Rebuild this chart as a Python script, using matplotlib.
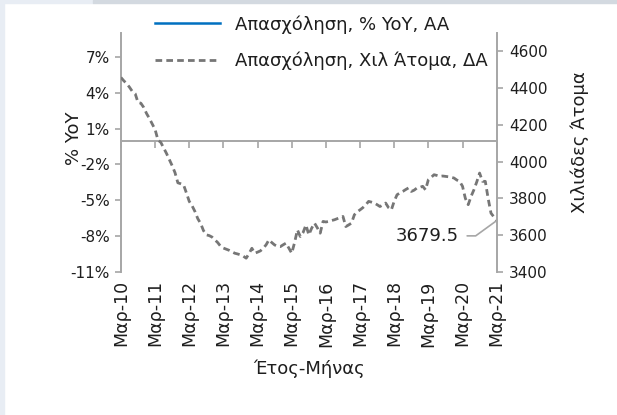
import numpy as np
import matplotlib.pyplot as plt
from matplotlib.patches import Rectangle

plt.rcParams['font.family'] = ['DejaVu Sans']

# monthly employment, thousands of persons, Mar-2010 .. Mar-2021
empLevel = [4458, 4440, 4425, 4405, 4382, 4370, 4322, 4318, 4295, 4262,
            4235, 4205, 4175, 4118, 4105, 4075, 4045, 4012, 3978, 3940,
            3885, 3880, 3874, 3830, 3784, 3760, 3729, 3690, 3664, 3625,
            3602, 3598, 3590, 3575, 3560, 3540, 3530, 3524, 3518, 3510,
            3502, 3498, 3493, 3486, 3475, 3500, 3529, 3502, 3508, 3515,
            3529, 3548, 3575, 3560, 3547, 3540, 3538, 3548, 3557, 3530,
            3502, 3560, 3629, 3593, 3615, 3656, 3602, 3638, 3666, 3640,
            3611, 3675, 3672, 3675, 3680, 3684, 3690, 3696, 3702, 3647,
            3656, 3666, 3711, 3727, 3738, 3750, 3765, 3784, 3780, 3775,
            3766, 3756, 3765, 3775, 3750, 3738, 3785, 3820, 3830, 3838,
            3848, 3857, 3838, 3845, 3857, 3860, 3866, 3847, 3902, 3915,
            3929, 3925, 3920, 3922, 3920, 3918, 3915, 3911, 3900, 3893,
            3866, 3800, 3766, 3811, 3847, 3890, 3938, 3893, 3893, 3800,
            3720, 3700, 3679.5]
empYoY = []  # % YoY series: nothing drawn in the reference

yearLabels = ["Μαρ-10", "Μαρ-11", "Μαρ-12", "Μαρ-13", "Μαρ-14", "Μαρ-15",
              "Μαρ-16", "Μαρ-17", "Μαρ-18", "Μαρ-19", "Μαρ-20", "Μαρ-21"]
leftTicks = [-11, -8, -5, -2, 1, 4, 7]
rightTicks = [3400, 3600, 3800, 4000, 4200, 4400, 4600]

gray = '#a6a6a6'
txtCol = '#1e1e1e'
fsNum = 11    # numeric tick labels
fsTxt = 12.5  # month labels
fsLab = 13    # legend, axis titles

fig = plt.figure(figsize=(6.17, 4.15), dpi=100)
fig.patches.append(Rectangle((0, 0), 0.007, 1, transform=fig.transFigure,
                             color='#e8edf4', zorder=-5))
fig.patches.append(Rectangle((0, 0.992), 0.15, 0.008, transform=fig.transFigure,
                             color='#e8edf4', zorder=-5))
fig.patches.append(Rectangle((0.15, 0.992), 0.85, 0.008, transform=fig.transFigure,
                             color='#d3d9e0', zorder=-5))

ax = fig.add_axes([0.196, 0.3446, 0.609, 0.576])
ax2 = ax.twinx()

months = np.arange(len(empLevel))
lineYoY, = ax.plot(months[:len(empYoY)], empYoY, color='#0070c0', lw=1.8,
                   label="Απασχόληση, % YoY, AA")
lineLvl, = ax2.plot(months, empLevel, color='#767676', lw=2.0,
                    dashes=(2.4, 1.5), label="Απασχόληση, Χιλ Άτομα, ΔΑ")

ax.set_xlim(0, len(empLevel) - 1)
ax.set_ylim(-11, 9)
ax2.set_ylim(3400, 4700)

ax.set_yticks(leftTicks, [f"{v}%" for v in leftTicks])
ax2.set_yticks(rightTicks, [str(v) for v in rightTicks])

for a in (ax, ax2):
  a.patch.set_visible(False)
  a.spines['top'].set_visible(False)
  for s in a.spines.values():
    s.set_color(gray)
    s.set_linewidth(1.4)
ax.spines['right'].set_visible(False)
ax2.spines['left'].set_visible(False)
ax2.spines['bottom'].set_visible(False)

# category axis sits on the zero line, labels at the bottom
ax.spines['bottom'].set_position(('data', 0))
yearTicks = months[::12]
ax.set_xticks(yearTicks)
ax.tick_params(axis='x', direction='out', length=5, width=1.2, color=gray,
               labelbottom=False)
sec = ax.secondary_xaxis(0.0)
sec.spines['bottom'].set_visible(False)
sec.set_xticks(yearTicks, yearLabels)
sec.tick_params(length=0, pad=6, labelsize=fsTxt, labelcolor=txtCol,
                labelrotation=90)

ax.tick_params(axis='y', direction='out', length=4, width=1.2, color=gray,
               labelsize=fsNum, labelcolor=txtCol, pad=4)
ax2.tick_params(axis='y', direction='out', length=4, width=1.2, color=gray,
                labelsize=fsNum, labelcolor=txtCol, pad=5)

ax.set_ylabel("% YoY", fontsize=fsLab, color=txtCol)
ax.yaxis.set_label_coords(-0.10, 0.56)
ax2.set_ylabel("Χιλιάδες Άτομα", fontsize=fsLab, color=txtCol)
ax2.yaxis.set_label_coords(1.197, 0.545)
sec.set_xlabel("Έτος-Μήνας", fontsize=fsLab, color=txtCol, labelpad=9)

ax2.annotate(f"{empLevel[-1]}", xy=(months[-1], empLevel[-1]),
             xytext=(-50, -11), textcoords='offset points',
             ha='center', va='center', fontsize=fsLab, color=txtCol,
             arrowprops=dict(arrowstyle='-', color=gray, lw=1.2,
                             connectionstyle="angle,angleA=0,angleB=36,rad=0",
                             shrinkA=4, shrinkB=0))

fig.legend(handles=[lineYoY, lineLvl], loc='upper left',
           bbox_to_anchor=(0.225, 1.003), frameon=False, fontsize=fsLab,
           handlelength=3.6, handletextpad=0.8, labelspacing=1.0,
           labelcolor=txtCol)

fig.savefig("out.png", dpi=100)
